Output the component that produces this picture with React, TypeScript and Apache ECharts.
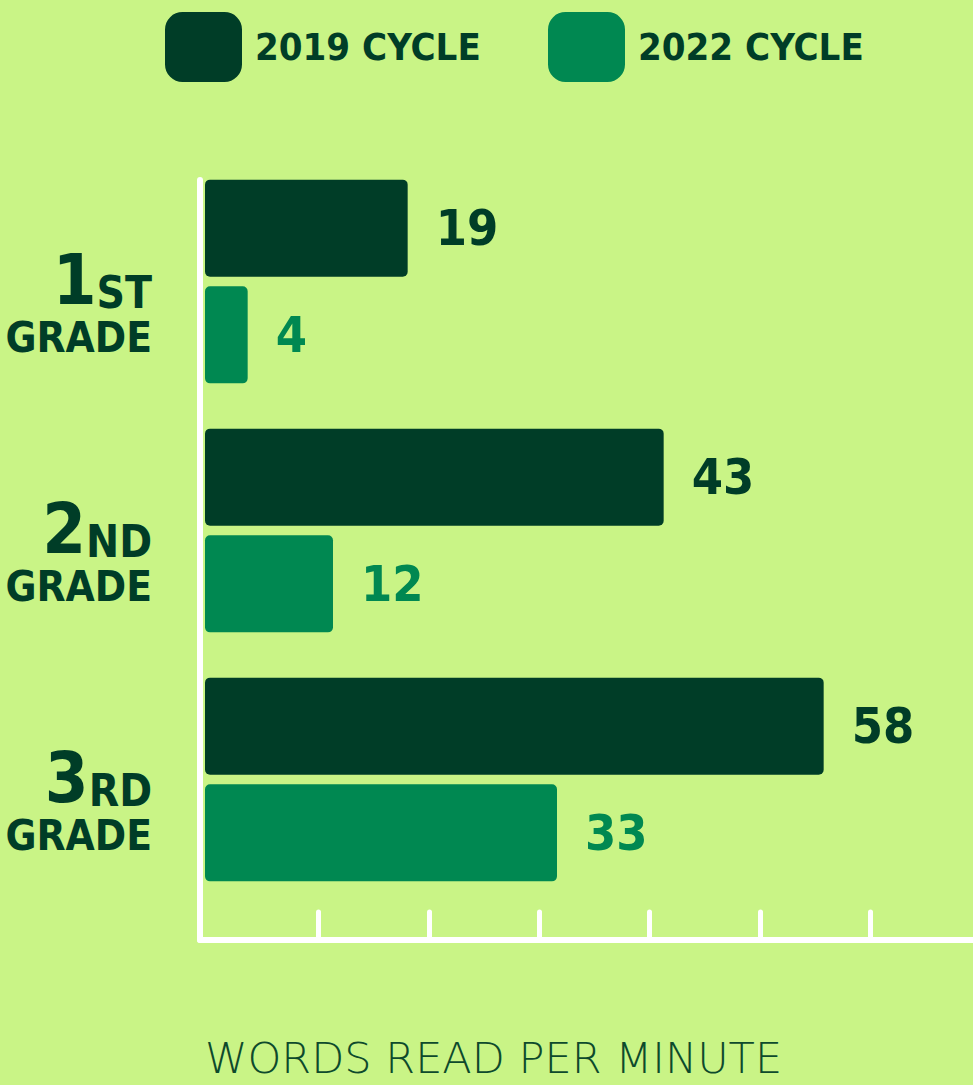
import React, { useEffect, useRef } from "react";
import * as echarts from "echarts";

const gradeNumbers = ["1", "2", "3"];
const gradeSuffixes = ["ST", "ND", "RD"];
const categories = ["1ST GRADE", "2ND GRADE", "3RD GRADE"];
const seriesNames = ["2019 CYCLE", "2022 CYCLE"];
const values2019 = [19, 43, 58];
const values2022 = [4, 12, 33];
const tickValues = [1, 2, 3, 4, 5, 6];
const axisTitle = "WORDS READ PER MINUTE";

const BG = "#c9f486";
const DARK = "#003d27";
const GREEN = "#008851";
const FONT = '"Liberation Sans Narrow", "DejaVu Sans Condensed", "Liberation Sans", sans-serif';

export default function App() {
  const ref = useRef<HTMLDivElement>(null);
  useEffect(() => {
    if (!ref.current) return;
    const chart = echarts.init(ref.current, undefined, { renderer: "svg" });
    const legendBase = {
      top: 12,
      padding: 0,
      itemWidth: 77,
      itemHeight: 70,
      icon: "roundRect",
      itemGap: 20,
      textStyle: { color: DARK, fontSize: 38, fontWeight: "bold", fontFamily: FONT, padding: [8, 0, 0, 8] },
      selectedMode: false,
    };
    chart.setOption({
      animation: false,
      backgroundColor: BG,
      textStyle: { fontFamily: FONT },
      title: {
        text: axisTitle,
        left: 205,
        top: 1036,
        padding: 0,
        textStyle: {
          color: "#0d4a2c",
          fontSize: 43,
          lineHeight: 44,
          fontWeight: 200,
          fontFamily: '"DejaVu Sans", sans-serif',
        },
      },
      legend: [
        { ...legendBase, left: 165, data: [seriesNames[0]] },
        { ...legendBase, left: 548, data: [seriesNames[1]] },
      ],
      grid: [
        { left: 205, right: 0, top: 157, bottom: 181, outerBoundsMode: "none", containLabel: false },
        { left: 200, right: 0, top: 180, bottom: 145, outerBoundsMode: "none", containLabel: false },
        { left: 208, right: -8, top: 180, bottom: 145, outerBoundsMode: "none", containLabel: false },
      ],
      xAxis: [
        {
          gridIndex: 0,
          type: "value",
          min: 0,
          max: 72,
          show: false,
        },
        {
          gridIndex: 1,
          type: "value",
          min: 0,
          max: 7,
          axisLine: { show: true, onZero: false, lineStyle: { color: "#ffffff", width: 6 } },
          axisTick: { show: false },
          axisLabel: { show: false },
          splitLine: { show: false },
        },
        {
          gridIndex: 2,
          type: "value",
          min: 0,
          max: 7,
          axisLine: { show: false, onZero: false },
          axisTick: {
            show: true,
            inside: true,
            length: 28,
            customValues: tickValues,
            lineStyle: { color: "#ffffff", width: 5, cap: "round" },
          },
          axisLabel: { show: false },
          splitLine: { show: false },
        },
      ],
      yAxis: [
        {
          gridIndex: 0,
          type: "category",
          inverse: true,
          data: categories,
          axisLine: { show: false },
          axisTick: { show: false },
          axisLabel: {
            margin: 53,
            padding: [40, 0, 0, 0],
            formatter: (_v: string, i: number) =>
              `{big|${gradeNumbers[i]}}{sup|${gradeSuffixes[i]}}\n{grade|GRADE}`,
            rich: {
              big: { fontSize: 70, fontWeight: "bold", color: DARK, fontFamily: FONT, lineHeight: 72, align: "right", verticalAlign: "bottom" },
              sup: { fontSize: 44, fontWeight: "bold", color: DARK, fontFamily: FONT, lineHeight: 72, align: "right", verticalAlign: "bottom" },
              grade: { fontSize: 42, fontWeight: "bold", color: DARK, fontFamily: FONT, lineHeight: 46, align: "right" },
            },
          },
        },
        {
          gridIndex: 1,
          type: "value",
          position: "left",
          axisLine: { show: true, onZero: false, lineStyle: { color: "#ffffff", width: 6 } },
          axisTick: { show: false },
          axisLabel: { show: false },
          splitLine: { show: false },
        },
        {
          gridIndex: 2,
          type: "value",
          show: false,
        },
      ],
      series: [
        {
          name: seriesNames[0],
          type: "bar",
          xAxisIndex: 0,
          yAxisIndex: 0,
          data: values2019,
          barWidth: 97,
          barGap: "10%",
          itemStyle: { color: DARK, borderRadius: 5 },
          label: { show: true, position: "right", distance: 28, color: DARK, fontSize: 50, fontWeight: "bold", fontFamily: FONT },
        },
        {
          name: seriesNames[1],
          type: "bar",
          xAxisIndex: 0,
          yAxisIndex: 0,
          data: values2022,
          barWidth: 97,
          barGap: "10%",
          itemStyle: { color: GREEN, borderRadius: 5 },
          label: { show: true, position: "right", distance: 28, color: GREEN, fontSize: 50, fontWeight: "bold", fontFamily: FONT },
        },
      ],
    });
    return () => chart.dispose();
  }, []);
  return (
    <div
      ref={ref}
      style={{ position: "absolute", left: 0, top: 0, width: 973, height: 1085, background: BG }}
    />
  );
}
